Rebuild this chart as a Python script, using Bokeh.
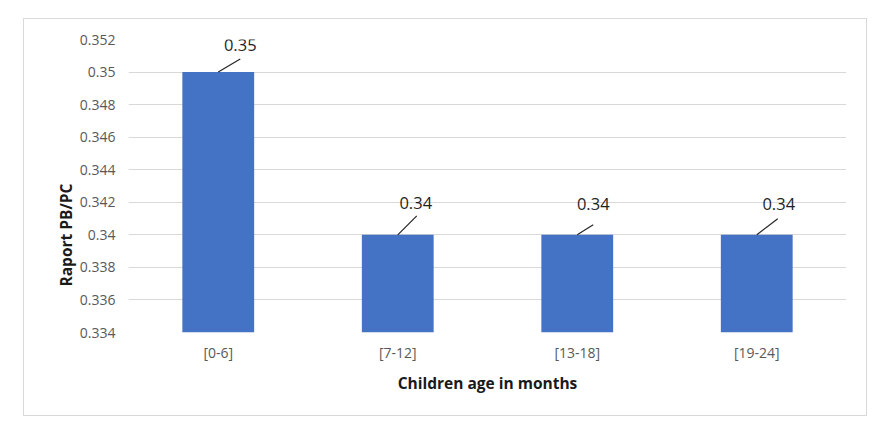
from bokeh.plotting import figure
from bokeh.models import ColumnDataSource, Range1d, Title, FixedTicker, Spacer, CustomJSTickFormatter
from bokeh.layouts import column, row
from bokeh.core.properties import value
from bokeh.embed import file_html
from bokeh.resources import INLINE

categories = ["[0-6]", "[7-12]", "[13-18]", "[19-24]"]
ratios = [0.35, 0.34, 0.34, 0.34]
value_labels = ["0.35", "0.34", "0.34", "0.34"]
y_ticks = [0.334, 0.336, 0.338, 0.340, 0.342, 0.344, 0.346, 0.348, 0.350, 0.352]
x_title = "Children age in months"
y_title = "Raport PB/PC"

FONT = "Open Sans"
W, H = 844, 398
ML, MR, MT, MB = 104, 22, 20, 85
frame_w = W - ML - MR
frame_h = H - MT - MB
y_lo, y_hi = y_ticks[0], y_ticks[-1]
px_x = frame_w / len(categories)          # px per category unit
px_y = frame_h / (y_hi - y_lo)            # px per y unit

# label placement (pixels, relative to bar top centre)
lab_dx = [22, 18, 16, 22]
lab_dy = [-27, -32, -31, -31]
lead_dx = [22, 19, 16, 21]
lead_dy = [-13, -19, -10, -16]

xpos = [i + 0.5 for i in range(len(categories))]
src = ColumnDataSource(dict(
    x=xpos, cat=categories, val=ratios, label=value_labels,
    ldx=lab_dx, ldy=lab_dy,
    x1=[x + d / px_x for x, d in zip(xpos, lead_dx)],
    y1=[v - dy / px_y for v, dy in zip(ratios, lead_dy)],
))

p = figure(x_range=Range1d(0, len(categories)), y_range=Range1d(y_lo, y_hi),
           width=W, height=H, output_backend="svg", toolbar_location=None,
           min_border_left=ML, min_border_right=MR, min_border_top=MT, min_border_bottom=MB)
p.outline_line_color = None
p.background_fill_color = "white"
p.border_fill_color = "white"

p.vbar(x="x", top="val", bottom=y_lo, width=0.4, source=src,
       fill_color="#4472C4", line_color=None)

# leader lines
p.segment(x0="x", y0="val", x1="x1", y1="y1", source=src,
          line_color="#262626", line_width=1.2)

p.text(x="x", y="val", text="label", x_offset="ldx", y_offset="ldy", source=src,
       text_align="center", text_baseline="middle", text_font=value(FONT),
       text_font_size="16.5px", text_color="#1f1f1f")

p.xaxis.ticker = FixedTicker(ticks=xpos)
p.xaxis.formatter = CustomJSTickFormatter(
    args=dict(cats=categories),
    code="return cats[Math.round(tick - 0.5)];")
p.yaxis.ticker = FixedTicker(ticks=y_ticks)
p.yaxis.formatter = CustomJSTickFormatter(code="return parseFloat(tick.toFixed(3)).toString();")
for ax in (p.xaxis, p.yaxis):
    ax.axis_line_color = None
    ax.major_tick_line_color = None
    ax.minor_tick_line_color = None
    ax.major_tick_out = 0
    ax.major_tick_in = 0
    ax.minor_tick_out = 0
    ax.major_label_text_font = FONT
    ax.major_label_text_color = "#595959"
p.xaxis.major_label_text_font_size = "14px"
p.yaxis.major_label_text_font_size = "14px"
p.yaxis.major_label_standoff = 13
p.xaxis.major_label_standoff = 10

p.xaxis.axis_label = x_title
p.xaxis.axis_label_text_font = FONT
p.xaxis.axis_label_text_font_style = "bold"
p.xaxis.axis_label_text_font_size = "15.5px"
p.xaxis.axis_label_text_color = "#1a1a1a"
p.xaxis.axis_label_standoff = 7

p.xgrid.grid_line_color = None
p.ygrid.grid_line_color = "#d9d9d9"
p.ygrid.grid_line_width = 1

p.add_layout(Title(text=y_title, align="left", offset=46, standoff=0,
                   text_font=FONT, text_font_style="bold", text_font_size="15.5px",
                   text_color="#1a1a1a"), "left")

p.styles = {"border": "1px solid #d9d9d9"}

layout = column(Spacer(height=18), row(Spacer(width=23), p))
open("out.html", "w").write(file_html(layout, INLINE))
